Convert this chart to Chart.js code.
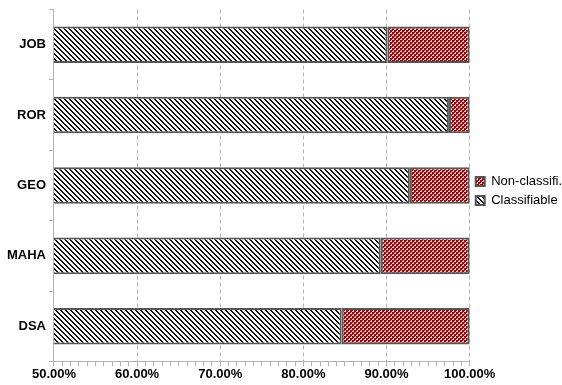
<!DOCTYPE html>
<html>
<head>
<meta charset="utf-8">
<script src="https://cdn.jsdelivr.net/npm/chart.js@4.4.1/dist/chart.umd.min.js"></script>
<style>
  html, body { margin: 0; padding: 0; background: #fff; }
  #wrap { width: 562px; height: 385px; position: relative; }
</style>
</head>
<body>
<div id="wrap"><canvas id="chart"></canvas></div>
<script>
/* ── Data ── */
var categories = ['JOB', 'ROR', 'GEO', 'MAHA', 'DSA'];
var classifiable = [90.1, 97.5, 92.8, 89.3, 84.6];
var nonClassifiable = [9.9, 2.5, 7.2, 10.7, 15.4];
var seriesNames = ['Classifiable', 'Non-classifi.'];
var xMin = 50, xMax = 100, majorStep = 10;

/* ── Fill patterns ── */
function hatchPattern() {
  var c = document.createElement('canvas');
  c.width = 5; c.height = 5;
  var g = c.getContext('2d');
  g.fillStyle = '#fff';
  g.fillRect(0, 0, 5, 5);
  g.fillStyle = '#111';
  for (var i = 0; i < 5; i++) {
    g.fillRect(i, i, 1, 1);
    g.fillRect((i + 1) % 5, i, 1, 1);
  }
  return g.createPattern(c, 'repeat');
}

function checkPattern() {
  var c = document.createElement('canvas');
  c.width = 4; c.height = 4;
  var g = c.getContext('2d');
  g.fillStyle = '#ecc8c8';
  g.fillRect(0, 0, 4, 4);
  g.fillStyle = '#8e0b10';
  g.fillRect(0, 0, 2, 2);
  g.fillRect(2, 2, 2, 2);
  g.fillRect(2, 0, 1, 1);
  g.fillRect(0, 2, 1, 1);
  return g.createPattern(c, 'repeat');
}

var labelFont = { family: 'Liberation Sans, Arial, sans-serif', size: 13, weight: 'bold' };

new Chart(document.getElementById('chart'), {
  type: 'bar',
  data: {
    labels: categories,
    datasets: [
      {
        label: seriesNames[0],
        data: classifiable,
        backgroundColor: hatchPattern(),
        borderColor: '#555',
        borderWidth: 2,
        borderSkipped: false,
        barPercentage: 1,
        categoryPercentage: 0.52
      },
      {
        label: seriesNames[1],
        data: nonClassifiable,
        backgroundColor: checkPattern(),
        borderColor: '#555',
        borderWidth: 2,
        borderSkipped: false,
        barPercentage: 1,
        categoryPercentage: 0.52
      }
    ]
  },
  options: {
    indexAxis: 'y',
    responsive: true,
    maintainAspectRatio: false,
    animation: false,
    layout: { padding: { top: 0, right: -10, left: 4, bottom: 3 } },
    plugins: {
      tooltip: { enabled: false },
      legend: {
        position: 'right',
        reverse: true,
        labels: {
          color: '#000',
          font: { family: 'Liberation Sans, Arial, sans-serif', size: 13 },
          boxWidth: 9,
          boxHeight: 9,
          padding: 6
        }
      }
    },
    scales: {
      x: {
        stacked: true,
        min: xMin,
        max: xMax,
        ticks: {
          stepSize: 1,
          autoSkip: false,
          maxRotation: 0,
          color: '#000',
          font: labelFont,
          padding: 0,
          callback: function(v) {
            return Math.abs(v % majorStep) < 1e-6 ? v.toFixed(2) + '%' : '';
          }
        },
        grid: {
          color: function(ctx) {
            if (!ctx.tick) return 'rgba(0,0,0,0)';
            return Math.abs(ctx.tick.value % majorStep) < 1e-6 ? '#b3b3b3' : 'rgba(0,0,0,0)';
          },
          tickColor: '#b3b3b3',
          tickLength: 5,
          lineWidth: 1
        },
        border: { color: '#b3b3b3', dash: [4, 3] }
      },
      y: {
        stacked: true,
        offset: true,
        ticks: {
          color: '#000',
          font: { family: labelFont.family, size: 13, weight: 'bold', lineHeight: 1 },
          padding: 3
        },
        grid: {
          offset: true,
          drawOnChartArea: false,
          color: '#b3b3b3',
          tickLength: 5
        },
        border: { color: '#b3b3b3' }
      }
    }
  }
});
</script>
</body>
</html>
